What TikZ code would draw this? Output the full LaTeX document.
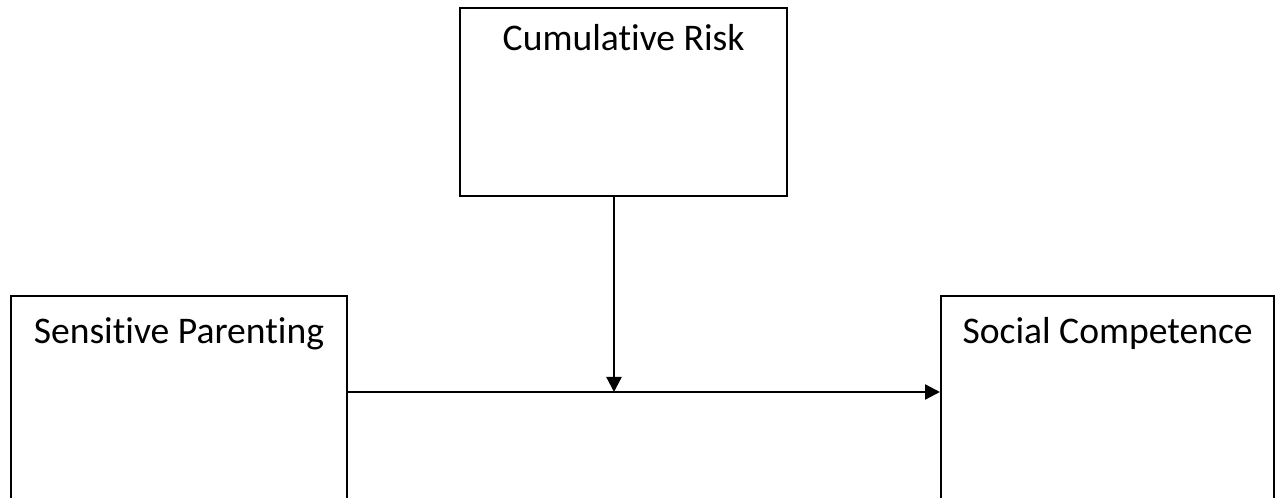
\documentclass[tikz,border=0pt]{standalone}
\usepackage{fontspec}
\setmainfont[Ligatures=NoCommon]{Carlito}
\usetikzlibrary{arrows.meta}
\tikzset{
  modelbox/.style={draw=black,line width=1.3pt,inner sep=0pt,anchor=north west,
    minimum width=#1,font=\fontsize{21.4}{26}\selectfont},
  modelarrow/.style={line width=1.3pt,-{Triangle[length=0.3cm,width=0.3cm]}}
}

\begin{document}
\begin{tikzpicture}[x=1cm,y=1cm]
\clip (0,0) rectangle (25.56,9.96);
\path[use as bounding box] (0,0) rectangle (25.56,9.96);
\node[modelbox=6.54cm,text height=0.84cm,text depth=2.92cm] (risk) at (9.18,9.82) {Cumulative Risk};
\node[modelbox=6.73cm,text height=0.94cm,text depth=3.6cm] (parenting) at (0.19,4.06) {Sensitive Parenting};
\node[modelbox=6.66cm,text height=0.94cm,text depth=3.6cm] (competence) at (18.80,4.06) {Social Competence};
\coordinate (meet) at (12.28,2.12);
\draw[modelarrow] (parenting.west |- meet) ++(6.73,0) -- (competence.west |- meet);
\draw[modelarrow] (risk.south -| meet) -- (meet);
\end{tikzpicture}
\end{document}
